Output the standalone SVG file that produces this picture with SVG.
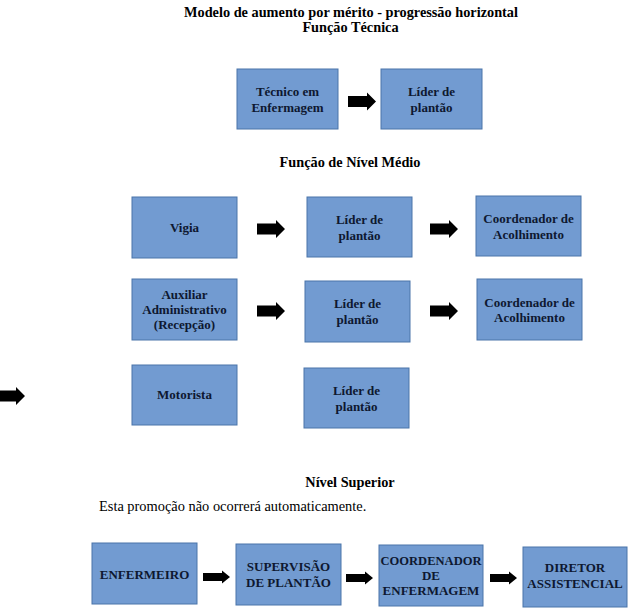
<svg xmlns="http://www.w3.org/2000/svg" width="633" height="612" viewBox="0 0 633 612">
<defs>
<style>
text{font-family:'Liberation Serif','DejaVu Serif',serif}
.bx{fill:#729bd1;stroke:#4a74a9;stroke-width:1}
.bt{font-weight:bold;font-size:13px;fill:#0e1830;text-anchor:middle}
.hd{font-weight:bold;font-size:14.3px;fill:#000;text-anchor:middle}
.pl{font-size:14.4px;fill:#000}
.ar{fill:#000}
</style>
<path id="arr" class="ar" d="M0,-5.5 H19 V-9 L28,0 L19,9 V5.5 H0 Z"/>
<path id="arrs" class="ar" d="M0,-4 H19 V-6.5 L27,0 L19,6.5 V4 H0 Z"/>
</defs>
<rect width="633" height="612" fill="#fff"/>
<g font-family="Liberation Serif, DejaVu Serif, serif">
<text class="hd" x="351" y="17">Modelo de aumento por mérito - progressão horizontal</text>
<text class="hd" x="350.5" y="32">Função Técnica</text>
<text class="hd" x="350" y="167">Função de Nível Médio</text>
<text class="hd" x="350" y="487">Nível Superior</text>
<text class="pl" x="99" y="511">Esta promoção não ocorrerá automaticamente.</text>

<g id="tecnico"><rect class="bx" x="237" y="69" width="101" height="60"/><text class="bt" x="287.5" y="96">Técnico em</text><text class="bt" x="287.5" y="112">Enfermagem</text></g>
<g id="lider-tec"><rect class="bx" x="381" y="69" width="101" height="60"/><text class="bt" x="431.5" y="96">Líder de</text><text class="bt" x="431.5" y="112">plantão</text></g>

<g id="vigia"><rect class="bx" x="132" y="197" width="105" height="61"/><text class="bt" x="184.5" y="232">Vigia</text></g>
<g id="lider-1"><rect class="bx" x="307" y="197" width="105" height="60"/><text class="bt" x="359.5" y="224">Líder de</text><text class="bt" x="359.5" y="240">plantão</text></g>
<g id="coord-1"><rect class="bx" x="476" y="196" width="105" height="60"/><text class="bt" x="528.5" y="223">Coordenador de</text><text class="bt" x="528.5" y="239">Acolhimento</text></g>

<g id="auxiliar"><rect class="bx" x="132" y="279" width="105" height="61"/><text class="bt" x="184.5" y="299">Auxiliar</text><text class="bt" x="184.5" y="314">Administrativo</text><text class="bt" x="184.5" y="329">(Recepção)</text></g>
<g id="lider-2"><rect class="bx" x="305" y="281" width="105" height="61"/><text class="bt" x="357.5" y="308">Líder de</text><text class="bt" x="357.5" y="324">plantão</text></g>
<g id="coord-2"><rect class="bx" x="477" y="279" width="105" height="61"/><text class="bt" x="529.5" y="307">Coordenador de</text><text class="bt" x="529.5" y="322">Acolhimento</text></g>

<g id="motorista"><rect class="bx" x="132" y="365" width="105" height="60"/><text class="bt" x="184.5" y="399">Motorista</text></g>
<g id="lider-3"><rect class="bx" x="304" y="368" width="105" height="60"/><text class="bt" x="356.5" y="395">Líder de</text><text class="bt" x="356.5" y="411">plantão</text></g>

<g id="enfermeiro"><rect class="bx" x="92" y="543" width="105" height="61"/><text class="bt" x="144.5" y="579">ENFERMEIRO</text></g>
<g id="supervisao"><rect class="bx" x="236" y="544" width="105" height="61"/><text class="bt" x="288.5" y="571">SUPERVISÃO</text><text class="bt" x="288.5" y="587">DE PLANTÃO</text></g>
<g id="coord-enf"><rect class="bx" x="379" y="545" width="104" height="61"/><text class="bt" x="431" y="565" textLength="101" lengthAdjust="spacingAndGlyphs">COORDENADOR</text><text class="bt" x="431" y="580">DE</text><text class="bt" x="431" y="595">ENFERMAGEM</text></g>
<g id="diretor"><rect class="bx" x="523" y="547" width="104" height="60"/><text class="bt" x="575" y="572">DIRETOR</text><text class="bt" x="575" y="588">ASSISTENCIAL</text></g>
</g>

<g id="connectors">
<use href="#arr" x="348" y="101.5"/>
<use href="#arr" x="257" y="229"/>
<use href="#arr" x="430" y="229"/>
<use href="#arr" x="257" y="311"/>
<use href="#arr" x="430" y="311"/>
<use href="#arr" x="-3" y="396"/>
<use href="#arrs" x="203" y="577"/>
<use href="#arrs" x="346" y="578"/>
<use href="#arrs" x="490" y="578"/>
</g>
</svg>
